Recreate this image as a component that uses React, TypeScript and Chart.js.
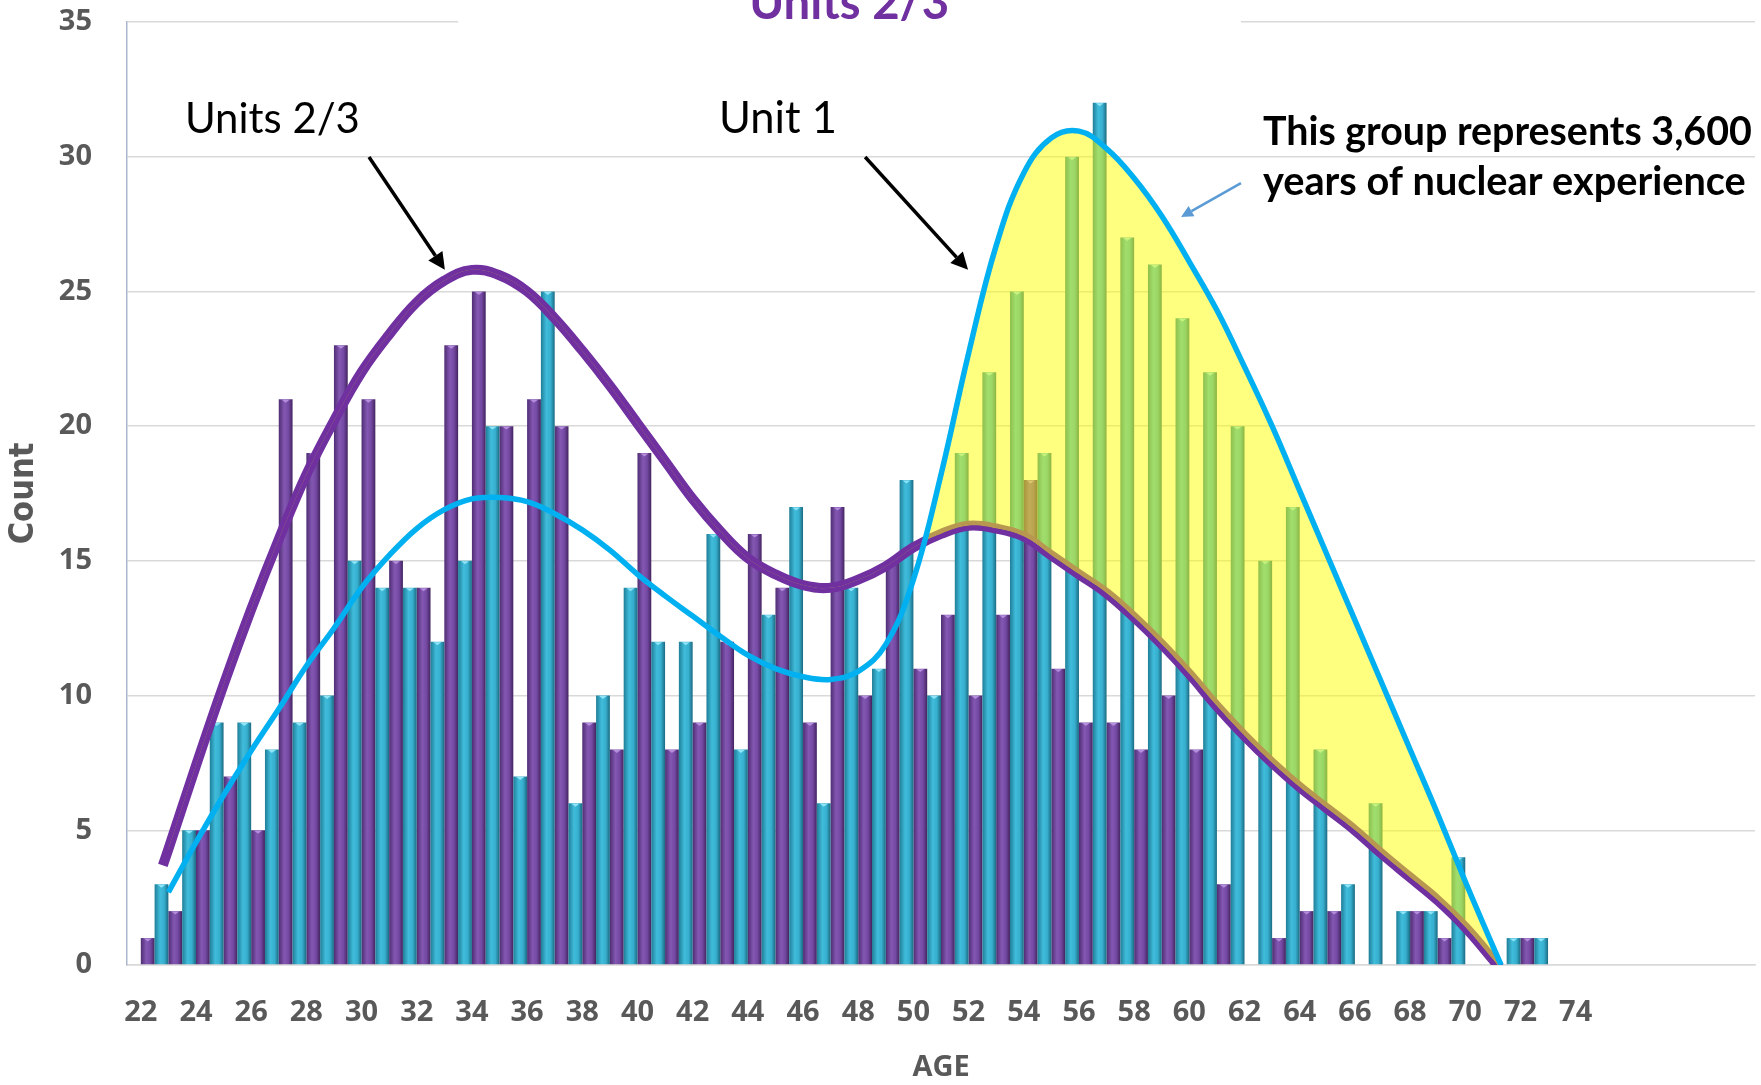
import React, { useEffect, useRef } from "react";
import { Chart, registerables } from "chart.js";

Chart.register(...registerables);

// ---------- DATA ----------
const AGES = [
  22, 23, 24, 25, 26, 27, 28, 29, 30, 31,
  32, 33, 34, 35, 36, 37, 38, 39, 40, 41,
  42, 43, 44, 45, 46, 47, 48, 49, 50, 51,
  52, 53, 54, 55, 56, 57, 58, 59, 60, 61,
  62, 63, 64, 65, 66, 67, 68, 69, 70, 71,
  72, 73, 74, 75, 76, 77, 78, 79, 80,
];

// Unit 1 (teal bars)
const UNIT1_COUNTS = [
  0, 3, 5, 9, 9, 8, 9, 10, 15, 14,
  14, 12, 15, 20, 7, 25, 6, 10, 14, 12,
  12, 16, 8, 13, 17, 6, 14, 11, 18, 10,
  19, 22, 25, 19, 30, 32, 27, 26, 24, 22,
  20, 15, 17, 8, 3, 6, 2, 2, 4, 0,
  1, 1, 0, 0, 0, 0, 0, 0, 0,
];

// Units 2/3 (purple bars)
const UNITS23_COUNTS = [
  1, 2, 5, 7, 5, 21, 19, 23, 21, 15,
  14, 23, 25, 20, 21, 20, 9, 8, 19, 8,
  9, 12, 16, 14, 9, 17, 10, 15, 11, 13,
  10, 13, 18, 11, 9, 9, 8, 10, 8, 3,
  0, 1, 2, 2, 0, 0, 2, 1, 0, 0,
  1, 0, 0, 0, 0, 0, 0, 0, 0,
];

// Trend curves
const TREND_AGES = [
  22.8, 23, 24, 25, 26, 27, 28, 29, 30, 31, 32,
  33, 34, 35, 36, 37, 38, 39, 40, 41, 42,
  43, 44, 45, 46, 47, 48, 49, 50, 51, 52,
  53, 54, 55, 56, 57, 58, 59, 60, 61, 62,
  63, 64, 65, 66, 67, 68, 69, 70, 71, 71.3,
];
const UNITS23_TREND = [
  3.7, 4.3, 7.4, 10.4, 13.2, 15.8, 18.2, 20.2, 22.0, 23.4, 24.6,
  25.4, 25.8, 25.6, 25.0, 24.0, 22.8, 21.5, 20.1, 18.7, 17.3,
  16.1, 15.1, 14.5, 14.1, 14.0, 14.3, 14.8, 15.5, 16.0, 16.3,
  16.2, 15.9, 15.2, 14.5, 13.8, 12.9, 11.9, 10.8, 9.6, 8.5,
  7.5, 6.6, 5.8, 5.0, 4.1, 3.25, 2.4, 1.4, 0.2, -0.2,
];
const UNIT1_TREND = [
  null, 2.7, 4.55, 6.3, 7.95, 9.5, 11.1, 12.5, 14.0, 15.2, 16.2,
  16.9, 17.3, 17.35, 17.2, 16.75, 16.15, 15.4, 14.5, 13.7, 12.95,
  12.2, 11.5, 11.0, 10.7, 10.6, 10.9, 11.9, 14.3, 18.2, 22.7,
  26.7, 29.4, 30.7, 30.95, 30.3, 29.2, 27.8, 26.1, 24.3, 22.2,
  20.0, 17.6, 15.2, 12.8, 10.4, 8.0, 5.6, 3.1, 0.7, 0.0,
];

const Y_MIN = 0;
const Y_MAX = 35;
const Y_STEP = 5;
const LAST_LABELED_AGE = 74;

// category band edges and the half-band shift that puts the two series side by side
const X_MIN = AGES[0] - 0.5;
const X_MAX = AGES[AGES.length - 1] + 0.5;
const SIDE_SHIFT = 0.25;

// ---------- ANNOTATIONS (anchored in data space) ----------
const NOTES = {
  title: { text: "Units 2/3", age: 47.67, value: 35.11, width: 200 },
  whiteBox: { fromAge: 33.5, toAge: 61.87 },
  units23: { text: "Units 2/3", age: 23.6, value: 30.88, width: 175 },
  unit1: { text: "Unit 1", age: 42.955, value: 30.88, width: 118 },
  arrow1: { from: [30.27, 29.99], to: [33.02, 25.8] },
  arrow2: { from: [48.25, 29.99], to: [51.98, 25.8] },
  group1: { text: "This group represents 3,600", age: 62.67, value: 30.9, width: 489 },
  group2: { text: "years of nuclear experience", age: 62.67, value: 29.06, width: 483 },
  blueArrow: { from: [61.87, 29.02], to: [59.7, 27.76] },
};

const TEAL_STOPS = ["#1F7E98", "#40BCDB", "#37AFCF", "#1B6A82"];
const PURPLE_STOPS = ["#4F2D73", "#8357B2", "#7449A3", "#43245F"];

function barFill(stops: string[], axisId: string) {
  return (c: any) => {
    const chart = c.chart;
    const xs = chart.scales ? chart.scales[axisId] : null;
    if (!chart.chartArea || !xs || c.dataIndex === undefined) return stops[1];
    const center = xs.getPixelForValue(AGES[c.dataIndex]);
    const w = xs.width / AGES.length / 2;
    const x0 = center - w / 2;
    if (!isFinite(x0)) return stops[1];
    const g = chart.ctx.createLinearGradient(x0, 0, x0 + w, 0);
    g.addColorStop(0, stops[0]);
    g.addColorStop(0.4, stops[1]);
    g.addColorStop(0.7, stops[2]);
    g.addColorStop(1, stops[3]);
    return g;
  };
}

const barTopsPlugin = {
  id: "barTops",
  afterDatasetDraw(chart: any, args: any) {
    const ds = chart.data.datasets[args.index];
    if (ds.type !== "bar") return;
    const ctx = chart.ctx;
    ctx.save();
    ctx.fillStyle = args.index === 0 ? "#8FE4F6" : "#B48EDC";
    args.meta.data.forEach((el: any, i: number) => {
      if (!ds.data[i]) return;
      const p = el.getProps(["x", "y", "width"], true);
      const hw = p.width * 0.28;
      ctx.beginPath();
      ctx.moveTo(p.x - hw, p.y + 0.5);
      ctx.lineTo(p.x + hw, p.y + 0.5);
      ctx.lineTo(p.x, p.y + hw * 0.9);
      ctx.closePath();
      ctx.fill();
    });
    ctx.restore();
  },
};

function fitFont(ctx: CanvasRenderingContext2D, text: string, weight: string, family: string, target: number) {
  ctx.font = `${weight} 100px ${family}`;
  const w = ctx.measureText(text).width;
  const size = (100 * target) / w;
  return `${weight} ${size.toFixed(2)}px ${family}`;
}

function drawArrow(ctx: CanvasRenderingContext2D, x1: number, y1: number, x2: number, y2: number, color: string, lw: number, head: number) {
  const ang = Math.atan2(y2 - y1, x2 - x1);
  const bx = x2 - Math.cos(ang) * head;
  const by = y2 - Math.sin(ang) * head;
  ctx.save();
  ctx.strokeStyle = color;
  ctx.fillStyle = color;
  ctx.lineWidth = lw;
  ctx.beginPath();
  ctx.moveTo(x1, y1);
  ctx.lineTo(bx, by);
  ctx.stroke();
  ctx.beginPath();
  ctx.moveTo(x2, y2);
  ctx.lineTo(bx + Math.cos(ang + Math.PI / 2) * head * 0.5, by + Math.sin(ang + Math.PI / 2) * head * 0.5);
  ctx.lineTo(bx + Math.cos(ang - Math.PI / 2) * head * 0.5, by + Math.sin(ang - Math.PI / 2) * head * 0.5);
  ctx.closePath();
  ctx.fill();
  ctx.restore();
}

const notesPlugin = {
  id: "notes",
  afterDraw(chart: any) {
    const ctx: CanvasRenderingContext2D = chart.ctx;
    const xl = chart.scales.xl;
    const ys = chart.scales.y;
    const px = (a: number) => xl.getPixelForValue(a);
    const py = (v: number) => ys.getPixelForValue(v);
    const LATO = '"Lato", "Open Sans", sans-serif';

    ctx.save();
    // white title box over the top gridline
    ctx.fillStyle = "#FFFFFF";
    const bx0 = px(NOTES.whiteBox.fromAge);
    const bx1 = px(NOTES.whiteBox.toAge);
    ctx.fillRect(bx0, 0, bx1 - bx0, py(Y_MAX) + 6);

    // cut-off chart title
    ctx.fillStyle = "#7030A0";
    ctx.textAlign = "center";
    ctx.textBaseline = "alphabetic";
    ctx.font = fitFont(ctx, NOTES.title.text, "bold", LATO, NOTES.title.width);
    ctx.fillText(NOTES.title.text, px(NOTES.title.age), py(NOTES.title.value));

    // series labels
    ctx.fillStyle = "#000000";
    ctx.textAlign = "left";
    ctx.font = fitFont(ctx, NOTES.units23.text, "normal", LATO, NOTES.units23.width);
    ctx.fillText(NOTES.units23.text, px(NOTES.units23.age), py(NOTES.units23.value));
    ctx.font = fitFont(ctx, NOTES.unit1.text, "normal", LATO, NOTES.unit1.width);
    ctx.fillText(NOTES.unit1.text, px(NOTES.unit1.age), py(NOTES.unit1.value));

    // group note
    ctx.textBaseline = "middle";
    ctx.font = fitFont(ctx, NOTES.group1.text, "bold", LATO, NOTES.group1.width);
    ctx.fillText(NOTES.group1.text, px(NOTES.group1.age), py(NOTES.group1.value));
    ctx.font = fitFont(ctx, NOTES.group2.text, "bold", LATO, NOTES.group2.width);
    ctx.fillText(NOTES.group2.text, px(NOTES.group2.age), py(NOTES.group2.value));
    ctx.restore();

    const a1 = NOTES.arrow1, a2 = NOTES.arrow2, a3 = NOTES.blueArrow;
    drawArrow(ctx, px(a1.from[0]), py(a1.from[1]), px(a1.to[0]), py(a1.to[1]), "#000000", 3.5, 17);
    drawArrow(ctx, px(a2.from[0]), py(a2.from[1]), px(a2.to[0]), py(a2.to[1]), "#000000", 3.5, 17);
    drawArrow(ctx, px(a3.from[0]), py(a3.from[1]), px(a3.to[0]), py(a3.to[1]), "#5B9BD5", 2.5, 12);
  },
};

const hiddenLinear = (min: number, max: number) => ({
  type: "linear",
  min,
  max,
  offset: false,
  display: false,
  afterBuildTicks: (s: any) => {
    s.ticks = [{ value: min }, { value: max }];
  },
});

export default function App() {
  const canvasRef = useRef<HTMLCanvasElement | null>(null);

  useEffect(() => {
    document.body.style.margin = "0";
    const canvas = canvasRef.current;
    if (!canvas) return;

    const tickFont = { family: '"Open Sans", sans-serif', size: 29, weight: "bold" as const };

    const chart = new Chart(canvas, {
      type: "bar",
      data: {
        labels: AGES.map(String),
        datasets: [
          {
            type: "bar",
            label: "Unit 1",
            data: UNIT1_COUNTS,
            backgroundColor: barFill(TEAL_STOPS, "xt") as any,
            borderWidth: 0,
            grouped: false,
            categoryPercentage: 1,
            barPercentage: 0.5,
            xAxisID: "xt",
            yAxisID: "y",
            order: 2,
          },
          {
            type: "bar",
            label: "Units 2/3",
            data: UNITS23_COUNTS,
            backgroundColor: barFill(PURPLE_STOPS, "xp") as any,
            borderWidth: 0,
            grouped: false,
            categoryPercentage: 1,
            barPercentage: 0.5,
            xAxisID: "xp",
            yAxisID: "y",
            order: 2,
          },
          {
            type: "line",
            label: "Units 2/3 trend",
            data: TREND_AGES.map((a, i) => ({ x: a, y: UNITS23_TREND[i] })),
            xAxisID: "xl",
            yAxisID: "y",
            borderColor: "#7030A0",
            borderWidth: 10,
            pointRadius: 0,
            tension: 0.4,
            borderCapStyle: "butt",
            spanGaps: true,
            fill: false,
            order: 1,
          },
          {
            type: "line",
            label: "Unit 1 trend",
            data: TREND_AGES.map((a, i) => ({ x: a, y: UNIT1_TREND[i] })),
            xAxisID: "xl",
            yAxisID: "y",
            borderColor: "#00B0F0",
            borderWidth: 5.5,
            pointRadius: 0,
            tension: 0.4,
            spanGaps: true,
            fill: { target: 2, above: "rgba(255,255,0,0.5)", below: "rgba(0,0,0,0)" },
            order: 0,
          },
        ] as any,
      },
      options: {
        responsive: false,
        animation: false,
        devicePixelRatio: 1,
        layout: { padding: { left: 0, right: 6, top: 22, bottom: 0 } },
        plugins: {
          legend: { display: false },
          tooltip: { enabled: false },
          title: { display: false },
        },
        scales: {
          x: {
            type: "category",
            offset: true,
            grid: { display: false, drawTicks: false },
            border: { display: true, color: "#D9D9D9", width: 1.5 },
            ticks: {
              autoSkip: false,
              maxRotation: 0,
              minRotation: 0,
              padding: 30,
              color: "#595959",
              font: tickFont,
              callback: (_v: any, i: number) => {
                const a = AGES[i];
                return a % 2 === 0 && a <= LAST_LABELED_AGE ? String(a) : "";
              },
            },
            title: {
              display: true,
              text: "AGE",
              color: "#595959",
              font: tickFont,
              padding: { top: 0, bottom: 0 },
            },
            afterFit: (s: any) => {
              s.height = 120;
              s.paddingLeft = 0;
              s.paddingRight = 0;
            },
          },
          xt: hiddenLinear(X_MIN + SIDE_SHIFT, X_MAX + SIDE_SHIFT),
          xp: hiddenLinear(X_MIN - SIDE_SHIFT, X_MAX - SIDE_SHIFT),
          xl: hiddenLinear(X_MIN, X_MAX),
          y: {
            min: Y_MIN,
            max: Y_MAX,
            ticks: { stepSize: Y_STEP, padding: 35, color: "#595959", font: tickFont },
            grid: { color: "#D9D9D9", lineWidth: 1.5, drawTicks: false },
            border: { color: "#A9B8CC", width: 1.5 },
            title: {
              display: true,
              text: "Count",
              color: "#595959",
              font: { family: '"Liberation Sans Narrow", "DejaVu Sans Condensed", sans-serif', size: 34, weight: "bold" },
              padding: { top: 4, bottom: 0 },
            },
            afterFit: (s: any) => {
              s.width = 127;
              s.paddingTop = 0;
              s.paddingBottom = 0;
            },
          },
        } as any,
      },
      plugins: [barTopsPlugin, notesPlugin],
    });

    return () => chart.destroy();
  }, []);

  return (
    <div style={{ width: 1761, height: 1085, position: "relative", background: "#FFFFFF" }}>
      <canvas ref={canvasRef} width={1761} height={1085} style={{ display: "block" }} />
    </div>
  );
}
